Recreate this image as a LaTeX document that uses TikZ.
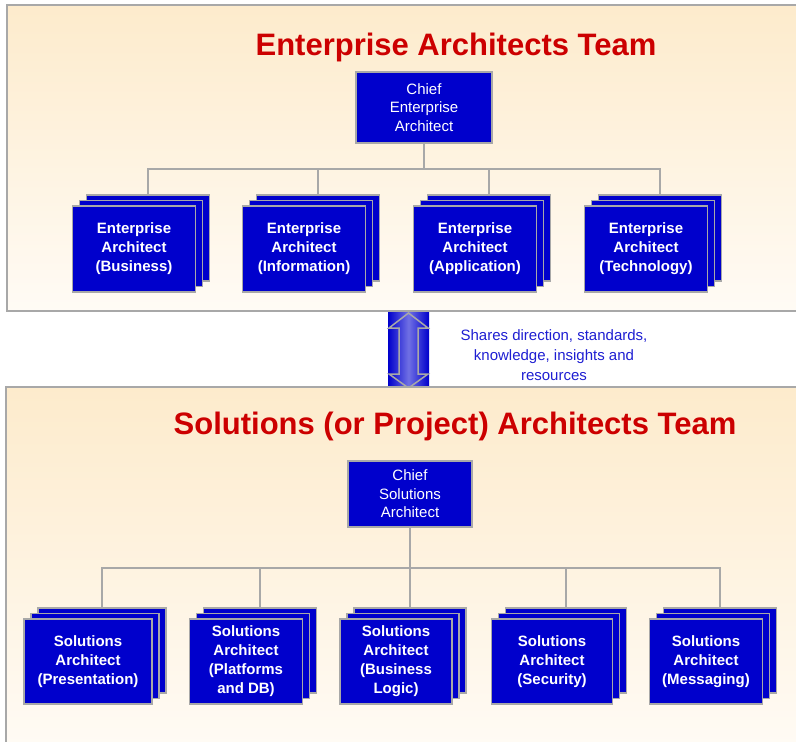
\documentclass[tikz,border=0pt]{standalone}
\usepackage{fontspec}
\setmainfont{Liberation Sans}
\usetikzlibrary{calc}

\definecolor{boxblue}{RGB}{0,0,204}
\definecolor{titlered}{RGB}{204,0,0}
\definecolor{edgegray}{RGB}{168,168,168}
\definecolor{paneltop}{RGB}{253,235,204}
\definecolor{panelbottom}{RGB}{255,251,245}
\definecolor{notetext}{RGB}{30,30,210}
\definecolor{arrowlight}{RGB}{112,112,228}

\tikzset{
  panel/.style={draw=edgegray, line width=1.6pt, top color=paneltop, bottom color=panelbottom},
  title/.style={text=titlered, font=\fontsize{31}{37}\selectfont\bfseries, inner sep=0pt, anchor=base},
  chiefbox/.style={draw=edgegray, line width=1.5pt, fill=boxblue, text=white, align=center,
    inner sep=0pt, font=\fontsize{15}{18.5}\selectfont},
  card/.style={draw=edgegray, line width=1.5pt, fill=boxblue, text=white, align=center,
    inner sep=0pt, font=\fontsize{15}{19}\selectfont\bfseries},
  link/.style={draw=edgegray, line width=1.3pt},
  note/.style={text=notetext, align=center, inner sep=0pt, font=\fontsize{15}{20}\selectfont},
}

% three stacked cards; #1 name, #2/#3 centre of the back card, #4 width, #5 height, #6 text
\newcommand{\cardstack}[6]{%
  \node[card, minimum width=#4pt, minimum height=#5pt] (#1-back) at (#2,#3) {};
  \node[card, minimum width=#4pt, minimum height=#5pt] (#1-mid) at ({#2-7},{#3+5.5}) {};
  \node[card, minimum width=#4pt, minimum height=#5pt] (#1) at ({#2-14},{#3+11}) {#6};
}

\begin{document}
\begin{tikzpicture}[x=1pt, y=-1pt]
\useasboundingbox (0,0) rectangle (796,742);
\clip (0,0) rectangle (796,742);

% ---------- enterprise team ----------
\path[panel] (7,5) rectangle (806,311);
\node[title] (etitle) at (456,55) {Enterprise Architects Team};
\node[chiefbox, minimum width=136pt, minimum height=71pt] (cea) at (424,107.5)
  {Chief\\Enterprise\\Architect};

\cardstack{eab}{148}{238}{123}{86}{Enterprise\\Architect\\(Business)}
\cardstack{eai}{318}{238}{123}{86}{Enterprise\\Architect\\(Information)}
\cardstack{eaa}{489}{238}{123}{86}{Enterprise\\Architect\\(Application)}
\cardstack{eat}{660}{238}{123}{86}{Enterprise\\Architect\\(Technology)}

\coordinate (ejoin) at (424,169);
\draw[link] (cea.south) -- (ejoin);
\foreach \n in {eab,eai,eaa,eat}
  \draw[link] (ejoin) -| (\n-back.north);

% ---------- link between the teams ----------
\shade[left color=boxblue, right color=boxblue, middle color=arrowlight] (388,312) rectangle (429,389);
\draw[edgegray, line width=1.5pt, line join=miter]
  (408.5,313) -- (428,328) -- (418,328) -- (418,374) -- (428,374) -- (408.5,388)
  -- (389,374) -- (399,374) -- (399,328) -- (389,328) -- cycle;
\node[note] (share) at (554,355)
  {Shares direction, standards,\\knowledge, insights and\\resources};

% ---------- solutions team ----------
\path[panel] (6,387) rectangle (806,750);
\node[title] (stitle) at (455,434) {Solutions (or Project) Architects Team};
\node[chiefbox, minimum width=124pt, minimum height=66pt] (csa) at (410,494)
  {Chief\\Solutions\\Architect};

\cardstack{sap}{102}{650.5}{128}{85}{Solutions\\Architect\\(Presentation)}
\cardstack{sad}{260}{650.5}{113}{85}{Solutions\\Architect\\(Platforms\\and DB)}
\cardstack{sal}{410}{650.5}{112}{85}{Solutions\\Architect\\(Business\\Logic)}
\cardstack{sas}{566}{650.5}{121}{85}{Solutions\\Architect\\(Security)}
\cardstack{sam}{720}{650.5}{113}{85}{Solutions\\Architect\\(Messaging)}

\coordinate (sjoin) at (410,568);
\draw[link] (csa.south) -- (sjoin);
\foreach \n in {sap,sad,sal,sas,sam}
  \draw[link] (sjoin) -| (\n-back.north);
\end{tikzpicture}
\end{document}
